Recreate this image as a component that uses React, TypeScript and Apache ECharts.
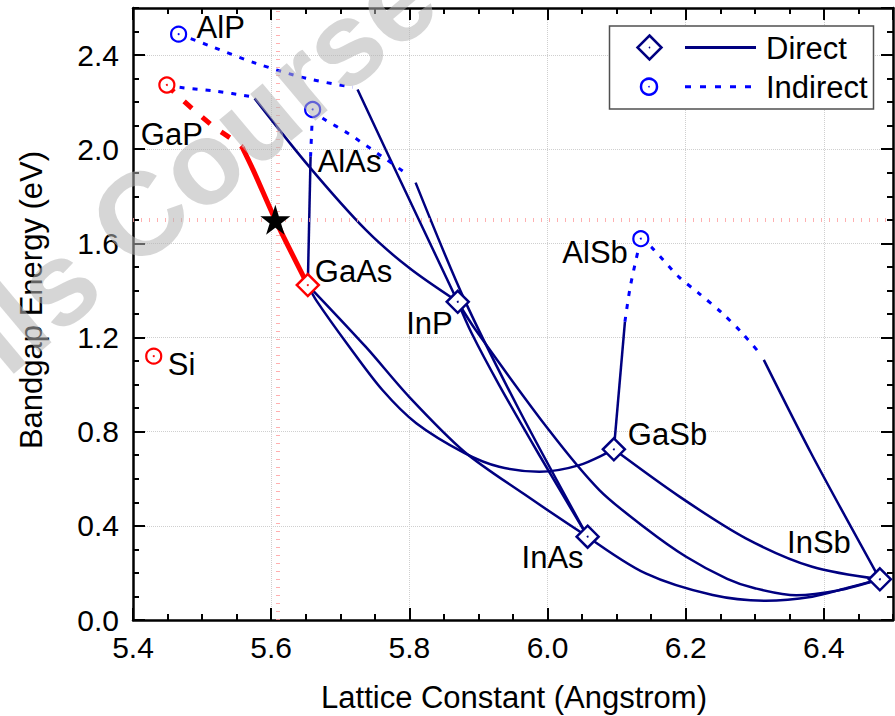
import React, { useEffect, useRef } from 'react';
import * as echarts from 'echarts';

const FONT = '"Liberation Sans", Arial, Helvetica, sans-serif';

// ---- Binary compounds (lattice constant, bandgap) ----
const binNames = ['AlP', 'GaP', 'AlAs', 'GaAs', 'InP', 'Si', 'AlSb', 'GaSb', 'InAs', 'InSb'];
const binLattice = [5.466, 5.449, 5.660, 5.653, 5.870, 5.430, 6.135, 6.096, 6.058, 6.481];
const binGap = [2.489, 2.273, 2.169, 1.423, 1.352, 1.121, 1.620, 0.725, 0.354, 0.173];

const directNavy = ['InP', 'GaSb', 'InAs', 'InSb'];
const directRed = ['GaAs'];
const indirectBlue = ['AlP', 'AlAs', 'AlSb'];
const indirectRed = ['GaP', 'Si'];

// ---- Alloy curves ----
const GaAsP_indirect = [[5.449, 2.273], [5.464, 2.230], [5.491, 2.159], [5.520, 2.089], [5.549, 2.032], [5.558, 2.009]];
const GaAsP_direct = [[5.558, 2.009], [5.575, 1.905], [5.606, 1.700], [5.653, 1.423]];

const GaInP_indirect = [[5.449, 2.273], [5.467, 2.263], [5.520, 2.247], [5.574, 2.222]];
const GaInP_direct = [[5.576, 2.216], [5.655, 1.926], [5.737, 1.657], [5.800, 1.495], [5.870, 1.352]];

const AlInP_indirect = [[5.466, 2.489], [5.515, 2.435], [5.578, 2.365], [5.651, 2.301], [5.718, 2.263]];
const AlInP_direct = [[5.725, 2.254], [5.766, 1.997], [5.870, 1.352]];

const AlGaAs_direct = [[5.653, 1.423], [5.657, 1.968]];
const AlGaAs_indirect = [[5.657, 1.968], [5.660, 2.169]];

const AlInAs_indirect = [[5.660, 2.169], [5.675, 2.131], [5.711, 2.068], [5.761, 1.968], [5.795, 1.898]];
const AlInAs_direct = [[5.809, 1.858], [5.880, 1.359], [5.959, 0.892], [6.058, 0.354]];

const InAsP = [[5.870, 1.352], [5.890, 1.219], [5.930, 0.998], [5.988, 0.701], [6.058, 0.354]];
const InPSb = [[5.870, 1.352], [5.896, 1.232], [6.002, 0.807], [6.075, 0.552], [6.142, 0.390], [6.200, 0.270], [6.260, 0.175], [6.300, 0.135], [6.360, 0.105], [6.420, 0.125], [6.481, 0.173]];
const InGaAs = [[5.653, 1.423], [5.737, 1.160], [5.800, 0.947], [5.880, 0.714], [5.966, 0.535], [6.058, 0.354]];
const GaAsSb = [[5.653, 1.423], [5.665, 1.359], [5.713, 1.161], [5.761, 0.977], [5.810, 0.836], [5.880, 0.709], [5.930, 0.651], [5.988, 0.630], [6.046, 0.658], [6.096, 0.725]];

const AlGaSb_direct = [[6.096, 0.725], [6.112, 1.267]];
const AlGaSb_indirect = [[6.112, 1.267], [6.120, 1.420], [6.135, 1.620]];

const AlInSb_indirect = [[6.135, 1.620], [6.152, 1.579], [6.190, 1.458], [6.219, 1.388], [6.253, 1.303], [6.282, 1.218], [6.309, 1.126]];
const AlInSb_direct = [[6.313, 1.105], [6.383, 0.700], [6.481, 0.173]];

const GaInSb = [[6.096, 0.725], [6.191, 0.524], [6.287, 0.347], [6.383, 0.226], [6.481, 0.173]];
const InAsSb = [[6.058, 0.354], [6.142, 0.198], [6.239, 0.106], [6.316, 0.082], [6.383, 0.099], [6.432, 0.135], [6.481, 0.173]];

const starPoint = [5.606, 1.70];

// ---- Axis ticks ----
const xMin = 5.4, xMax = 6.5, xMajor = 0.2, xMinor = 0.05;
const yMin = 0, yMax = 2.6, yMajor = 0.4, yMinor = 0.1;

// ---- label placement (pixel offsets from marker centre) ----
const labelPlace: Record<string, { align: string; offset: number[] }> = {
  AlP: { align: 'left', offset: [18, -7] },
  GaP: { align: 'left', offset: [-26, 50] },
  AlAs: { align: 'left', offset: [5, 52] },
  GaAs: { align: 'left', offset: [7, -14] },
  InP: { align: 'right', offset: [-5, 22] },
  Si: { align: 'left', offset: [14, 8] },
  AlSb: { align: 'right', offset: [-13, 14] },
  GaSb: { align: 'left', offset: [14, -15] },
  InAs: { align: 'right', offset: [-4, 21] },
  InSb: { align: 'right', offset: [-29, -37] },
};

const NAVY = '#000080';
const BLUE = '#0000ff';
const RED = '#ff0000';

function markerData(names: string[]) {
  return names.map((n) => {
    const i = binNames.indexOf(n);
    const lp = labelPlace[n];
    return {
      name: n,
      value: [binLattice[i], binGap[i]],
      label: {
        show: true,
        formatter: n,
        position: 'inside',
        offset: lp.offset,
        align: lp.align,
        verticalAlign: 'middle',
        fontSize: 31,
        fontFamily: FONT,
        color: '#000',
        opacity: 1,
      },
    };
  });
}

function dotData(names: string[]) {
  return names.map((n) => {
    const i = binNames.indexOf(n);
    return [binLattice[i], binGap[i]];
  });
}

function directLine(data: number[][]) {
  return {
    type: 'line', data, symbol: 'none', smooth: 0.3, z: 3,
    lineStyle: { color: NAVY, width: 2.5 },
  };
}
function indirectLine(data: number[][]) {
  return {
    type: 'line', data, symbol: 'none', smooth: 0.3, z: 3,
    lineStyle: { color: BLUE, width: 3, type: [5, 8] },
  };
}

const tickLen = 12;
const minorLen = 6;

function xAxisDef(position: string, interval: number, major: boolean, labels: boolean) {
  return {
    type: 'value', min: xMin, max: xMax, interval, position,
    axisLine: { show: major, onZero: false, lineStyle: { color: '#000', width: 2.5 } },
    axisTick: { show: true, inside: true, length: major ? tickLen : minorLen, lineStyle: { color: '#000', width: 2 } },
    axisLabel: {
      show: labels, margin: 12, fontSize: 30, fontFamily: FONT, color: '#000',
      showMaxLabel: false, formatter: (v: number) => v.toFixed(1),
    },
    splitLine: { show: labels, lineStyle: { color: '#cfcfcf', type: 'dotted', width: 1 } },
  };
}
function yAxisDef(position: string, interval: number, major: boolean, labels: boolean) {
  return {
    type: 'value', min: yMin, max: yMax, interval, position,
    axisLine: { show: major, onZero: false, lineStyle: { color: '#000', width: 2.5 } },
    axisTick: { show: true, inside: true, length: major ? tickLen : minorLen, lineStyle: { color: '#000', width: 2 } },
    axisLabel: {
      show: labels, margin: 14, fontSize: 30, fontFamily: FONT, color: '#000',
      showMaxLabel: false, formatter: (v: number) => v.toFixed(1),
    },
    splitLine: { show: labels, lineStyle: { color: '#cfcfcf', type: 'dotted', width: 1 } },
  };
}

const wmAngle = (40 * Math.PI) / 180;
const wmFill = 'rgba(180,180,180,0.55)';

function markerSeries(names: string[], symbol: string, size: number, stroke: string, bw: number) {
  return {
    type: 'scatter', data: markerData(names), symbol, symbolSize: size, z: 5,
    itemStyle: { color: '#fff', borderColor: stroke, borderWidth: bw, opacity: 1 },
    emphasis: { disabled: true },
  };
}
function dotSeries(names: string[], color: string) {
  return { type: 'scatter', data: dotData(names), symbolSize: 2, z: 6, itemStyle: { color, opacity: 1 } };
}

const option: any = {
  animation: false,
  backgroundColor: '#ffffff',
  grid: { left: 133, right: 2, top: 8, bottom: 96, containLabel: false },
  xAxis: [
    xAxisDef('bottom', xMajor, true, true),
    xAxisDef('top', xMajor, true, false),
    xAxisDef('bottom', xMinor, false, false),
    xAxisDef('top', xMinor, false, false),
  ],
  yAxis: [
    yAxisDef('left', yMajor, true, true),
    yAxisDef('right', yMajor, true, false),
    yAxisDef('left', yMinor, false, false),
    yAxisDef('right', yMinor, false, false),
  ],
  series: [
    {
      type: 'line', data: [], z: 1,
      markLine: {
        silent: true, symbol: ['none', 'none'], label: { show: false },
        lineStyle: { color: '#ff9c9c', width: 4, type: [1, 7], opacity: 0.8 },
        data: [{ xAxis: starPoint[0] }, { yAxis: starPoint[1] }],
      },
    },
    indirectLine(GaInP_indirect), directLine(GaInP_direct),
    indirectLine(AlInP_indirect), directLine(AlInP_direct),
    indirectLine(AlGaAs_indirect), directLine(AlGaAs_direct),
    indirectLine(AlInAs_indirect), directLine(AlInAs_direct),
    directLine(InAsP), directLine(InPSb), directLine(InGaAs), directLine(GaAsSb),
    indirectLine(AlGaSb_indirect), directLine(AlGaSb_direct),
    indirectLine(AlInSb_indirect), directLine(AlInSb_direct),
    directLine(GaInSb), directLine(InAsSb),
    {
      type: 'line', data: GaAsP_indirect, symbol: 'none', smooth: 0.3, z: 4,
      lineStyle: { color: RED, width: 5, type: [10, 14] },
    },
    {
      type: 'line', data: GaAsP_direct, symbol: 'none', smooth: 0.3, z: 4,
      lineStyle: { color: RED, width: 5 },
    },
    markerSeries(directNavy, 'diamond', 22, NAVY, 2.5),
    markerSeries(directRed, 'diamond', 22, RED, 2.5),
    markerSeries(indirectBlue, 'circle', 15, BLUE, 2.2),
    markerSeries(indirectRed, 'circle', 15, RED, 2.2),
    dotSeries(directNavy, NAVY),
    dotSeries(directRed, RED),
    dotSeries(indirectBlue, BLUE),
    dotSeries(indirectRed, RED),
    {
      type: 'scatter', data: [starPoint], z: 7, symbolSize: 30,
      symbol: 'path://M50,0 L61.2,34.5 L97.6,34.5 L68.2,55.9 L79.4,90.5 L50,69.1 L20.6,90.5 L31.8,55.9 L2.4,34.5 L38.8,34.5 Z',
      itemStyle: { color: '#000', opacity: 1 },
    },
  ],
  graphic: [
    {
      type: 'text', x: 514, y: 697, z: 50,
      style: { text: 'Lattice Constant (Angstrom)', fontSize: 31, fontFamily: FONT, fill: '#000', align: 'center', verticalAlign: 'middle' },
    },
    {
      type: 'text', x: 31, y: 300, rotation: Math.PI / 2, z: 50,
      style: { text: 'Bandgap Energy (eV)', fontSize: 31, fontFamily: FONT, fill: '#000', align: 'center', verticalAlign: 'middle' },
    },
    // legend
    {
      type: 'rect', z: 50, shape: { x: 609.5, y: 26, width: 264, height: 83 },
      style: { fill: '#fff', stroke: '#505050', lineWidth: 1.5 },
    },
    {
      type: 'polygon', z: 51, shape: { points: [[649.5, 35.5], [661.5, 47.5], [649.5, 59.5], [637.5, 47.5]] },
      style: { fill: '#fff', stroke: NAVY, lineWidth: 2.5 },
    },
    { type: 'circle', z: 52, shape: { cx: 649.5, cy: 47.5, r: 0.8 }, style: { fill: NAVY } },
    { type: 'line', z: 51, shape: { x1: 685, y1: 47.5, x2: 756, y2: 47.5 }, style: { stroke: NAVY, lineWidth: 3 } },
    {
      type: 'text', z: 51, x: 766, y: 48,
      style: { text: 'Direct', fontSize: 31, fontFamily: FONT, fill: '#000', align: 'left', verticalAlign: 'middle' },
    },
    { type: 'circle', z: 51, shape: { cx: 649, cy: 86.7, r: 8 }, style: { fill: '#fff', stroke: BLUE, lineWidth: 2.5 } },
    { type: 'circle', z: 52, shape: { cx: 649, cy: 86.7, r: 0.8 }, style: { fill: BLUE } },
    { type: 'line', z: 51, shape: { x1: 685, y1: 86.7, x2: 756, y2: 86.7 }, style: { stroke: BLUE, lineWidth: 3, lineDash: [6, 9] } },
    {
      type: 'text', z: 51, x: 766, y: 87,
      style: { text: 'Indirect', fontSize: 31, fontFamily: FONT, fill: '#000', align: 'left', verticalAlign: 'middle' },
    },
    // watermark
    {
      type: 'group', x: 107, y: 242, rotation: wmAngle, z: 100,
      children: [
        {
          type: 'text', x: 0, y: 0, z: 100,
          style: { text: 'Course', fontSize: 118, fontWeight: 'bold', fontFamily: FONT, fill: wmFill, align: 'left', verticalAlign: 'middle' },
        },
        {
          type: 'text', x: -33, y: 0, z: 100,
          style: { text: 'Solar Cells', fontSize: 118, fontWeight: 'bold', fontFamily: FONT, fill: wmFill, align: 'right', verticalAlign: 'middle' },
        },
      ],
    },
  ],
};

export default function App() {
  const ref = useRef<HTMLDivElement>(null);
  useEffect(() => {
    const chart = echarts.init(ref.current!, undefined, { renderer: 'svg' });
    chart.setOption(option);
    return () => chart.dispose();
  }, []);
  return <div ref={ref} style={{ position: 'absolute', left: 0, top: 0, width: 895, height: 716 }} />;
}
